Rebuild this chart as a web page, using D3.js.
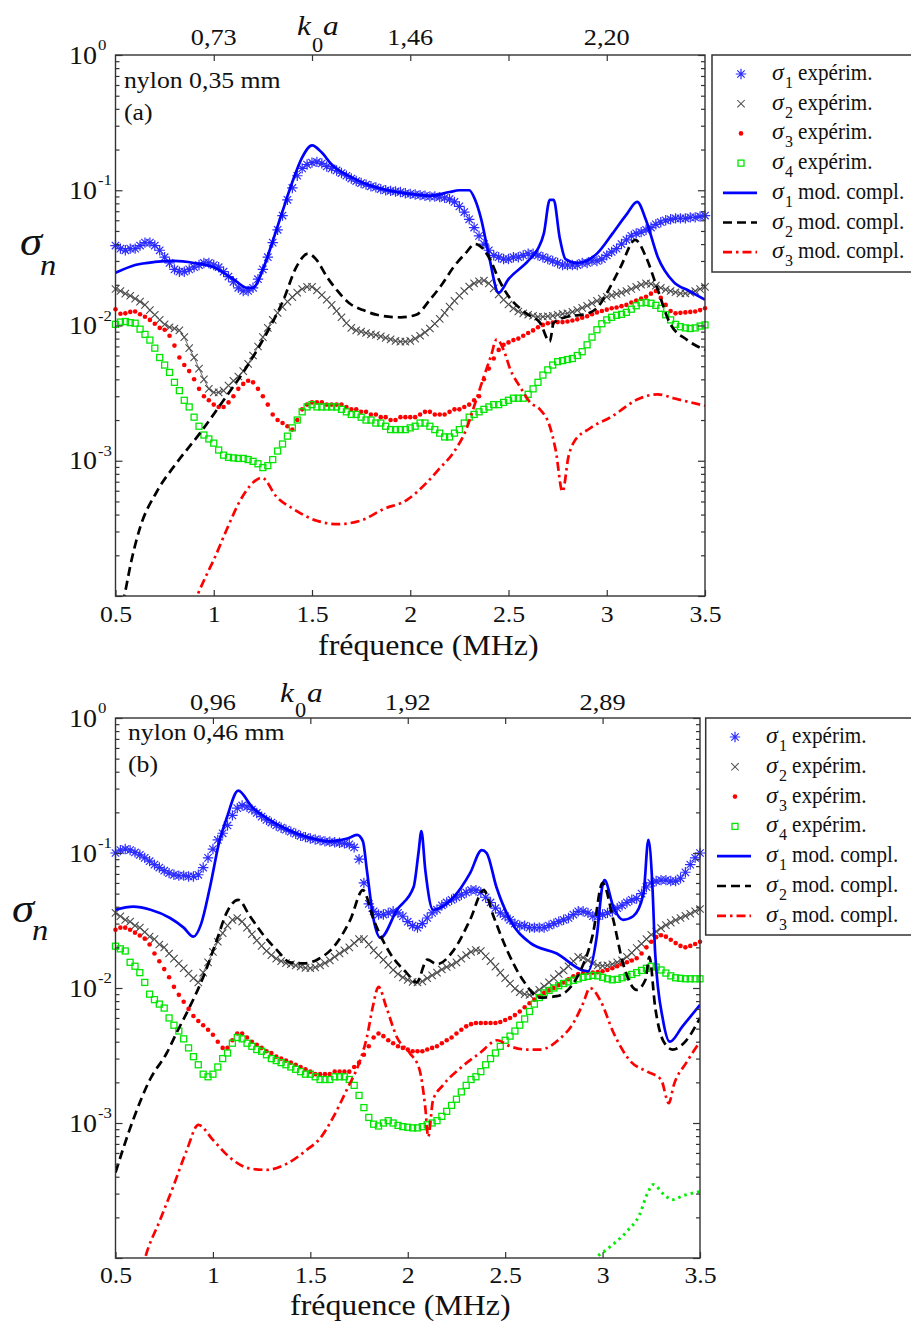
<!DOCTYPE html>
<html>
<head>
<meta charset="utf-8">
<script src="https://cdn.jsdelivr.net/npm/d3@7"></script>
<style>
  body { margin: 0; background: #fff; }
  svg text { font-family: "Liberation Serif", "Times New Roman", Times, serif; fill: #111; }
</style>
</head>
<body>
<svg id="chart" width="911" height="1322"></svg>
<script>
// ---------------------------------------------------------------
// Measured and modelled partial scattering cross-sections sigma_n
// versus frequency for two nylon wires (0.35 mm and 0.46 mm).
// ---------------------------------------------------------------

// Frequency grid of the measurements (MHz), 0.5 to 3.5 in 0.025 steps
const expStep = 0.025;
const expFreq = d3.range(121).map(i => +(0.5 + i * expStep).toFixed(3));

// x-axis ticks (MHz) and the k0a values shown on the top axis
const freqTicks = [0.5, 1, 1.5, 2, 2.5, 3, 3.5];
const topTicks = [1, 1.5, 2, 2.5, 3];
const k0aLabelsA = ["0,73", "", "1,46", "", "2,20"];
const k0aLabelsB = ["0,96", "", "1,92", "", "2,89"];
const decadeTicks = [1e-4, 1e-3, 1e-2, 1e-1, 1];
const decadeLabels = [[1, "0"], [1e-1, "-1"], [1e-2, "-2"], [1e-3, "-3"]];

// ---------------- nylon 0,35 mm : experiment ----------------
const s1ExpA = [
  0.039,0.037,0.036,0.037,0.037,0.039,0.041,0.041,0.039,0.036,
  0.032,0.029,0.026,0.025,0.025,0.026,0.027,0.028,0.029,0.029,
  0.028,0.027,0.025,0.023,0.021,0.019,0.018,0.018,0.019,0.022,
  0.026,0.032,0.041,0.051,0.065,0.085,0.104,0.128,0.145,0.155,
  0.160,0.162,0.158,0.150,0.145,0.140,0.134,0.128,0.122,0.117,
  0.113,0.110,0.107,0.105,0.102,0.100,0.099,0.098,0.097,0.095,
  0.094,0.093,0.092,0.091,0.090,0.090,0.089,0.088,0.086,0.082,
  0.076,0.069,0.061,0.053,0.046,0.040,0.036,0.033,0.032,0.031,
  0.031,0.032,0.032,0.033,0.034,0.034,0.033,0.032,0.031,0.030,
  0.029,0.028,0.028,0.028,0.028,0.029,0.029,0.030,0.030,0.031,
  0.033,0.035,0.037,0.040,0.043,0.046,0.048,0.049,0.051,0.053,
  0.056,0.058,0.060,0.061,0.062,0.062,0.062,0.063,0.063,0.064,
  0.065];
const s2ExpA = [
  0.0186,0.0180,0.0172,0.0166,0.0158,0.0150,0.0142,0.0130,0.0120,0.0110,
  0.0102,0.0097,0.0095,0.0092,0.0082,0.0068,0.0058,0.0048,0.0040,0.0034,
  0.0032,0.0032,0.0033,0.0036,0.0039,0.0042,0.0046,0.0052,0.0060,0.0070,
  0.0082,0.0096,0.0110,0.0124,0.0137,0.0150,0.0162,0.0175,0.0186,0.0193,
  0.0193,0.0182,0.0168,0.0155,0.0142,0.0128,0.0115,0.0104,0.0096,0.0092,
  0.0090,0.0088,0.0086,0.0085,0.0083,0.0081,0.0079,0.0077,0.0076,0.0076,
  0.0077,0.0080,0.0084,0.0089,0.0095,0.0103,0.0112,0.0124,0.0138,0.0152,
  0.0166,0.0180,0.0194,0.0205,0.0212,0.0215,0.0205,0.0188,0.0170,0.0155,
  0.0143,0.0134,0.0127,0.0123,0.0120,0.0118,0.0116,0.0116,0.0117,0.0118,
  0.0120,0.0122,0.0123,0.0126,0.0130,0.0135,0.0140,0.0146,0.0152,0.0158,
  0.0163,0.0167,0.0171,0.0175,0.0180,0.0186,0.0193,0.0200,0.0205,0.0203,
  0.0197,0.0190,0.0184,0.0180,0.0176,0.0173,0.0173,0.0175,0.0180,0.0186,
  0.0193];
const s3ExpA = [
  0.0132,0.0122,0.0123,0.0126,0.0127,0.0121,0.0116,0.0110,0.0103,0.0096,
  0.0093,0.0084,0.0071,0.0058,0.0051,0.0046,0.0040,0.0034,0.0030,0.0028,
  0.0026,0.0025,0.0025,0.0027,0.0030,0.0034,0.0037,0.0039,0.0038,0.0034,
  0.0030,0.0026,0.0022,0.0020,0.0019,0.0018,0.0017,0.0020,0.0024,0.0026,
  0.0027,0.0027,0.0027,0.0026,0.0026,0.0026,0.0026,0.0025,0.0024,0.0024,
  0.0023,0.0023,0.0022,0.0022,0.0021,0.0021,0.0020,0.0020,0.0021,0.0021,
  0.0021,0.0021,0.0022,0.0023,0.0023,0.0022,0.0022,0.0022,0.0023,0.0024,
  0.0024,0.0025,0.0026,0.0028,0.0030,0.0040,0.0048,0.0057,0.0066,0.0072,
  0.0075,0.0078,0.0080,0.0084,0.0088,0.0092,0.0097,0.0101,0.0104,0.0105,
  0.0106,0.0106,0.0107,0.0109,0.0111,0.0114,0.0117,0.0121,0.0125,0.0128,
  0.0131,0.0134,0.0136,0.0139,0.0142,0.0148,0.0153,0.0158,0.0163,0.0172,
  0.0180,0.0160,0.0142,0.0128,0.0123,0.0124,0.0125,0.0126,0.0127,0.0130,
  0.0134];
const s4ExpA = [
  0.0102,0.0106,0.0107,0.0105,0.0104,0.0094,0.0086,0.0078,0.0068,0.0058,
  0.0051,0.0045,0.0038,0.0033,0.0028,0.0025,0.0021,0.0018,0.00155,0.00145,
  0.00135,0.0012,0.0011,0.00106,0.00105,0.00104,0.00104,0.00102,0.00099,0.00095,
  0.00089,0.00092,0.00102,0.00118,0.00133,0.00152,0.00175,0.0020,0.0023,0.0025,
  0.0026,0.0025,0.0025,0.0025,0.0025,0.0025,0.0024,0.0023,0.0022,0.0022,
  0.0021,0.0020,0.0020,0.0019,0.0019,0.0018,0.0017,0.0017,0.0017,0.0017,
  0.00175,0.0018,0.0019,0.0019,0.0018,0.0017,0.0016,0.0015,0.0015,0.0016,
  0.0017,0.0019,0.0021,0.0022,0.0023,0.0024,0.0025,0.0026,0.0026,0.0027,
  0.0028,0.0029,0.0029,0.0029,0.0031,0.0034,0.0038,0.0043,0.0047,0.0051,
  0.0054,0.0055,0.0056,0.0057,0.0060,0.0064,0.0072,0.0082,0.0093,0.0103,
  0.0110,0.0115,0.0119,0.0121,0.0125,0.0132,0.0140,0.0147,0.0148,0.0146,
  0.0141,0.0134,0.0120,0.0110,0.0102,0.0098,0.0096,0.0095,0.0096,0.0099,
  0.0101];

// ---------------- nylon 0,35 mm : complete model ([MHz, sigma]) ----------------
const s1ModA = [[0.5,0.0245],[0.6,0.028],[0.7,0.0295],[0.8,0.030],[0.9,0.029],[1.0,0.027],[1.1,0.022],
  [1.17,0.019],[1.2,0.019],[1.25,0.026],[1.3,0.042],[1.35,0.070],[1.4,0.115],[1.45,0.175],[1.5,0.215],
  [1.55,0.19],[1.6,0.155],[1.7,0.125],[1.8,0.108],[1.9,0.099],[2.0,0.094],[2.1,0.091],[2.2,0.097],
  [2.25,0.100],[2.3,0.100],[2.33,0.085],[2.36,0.062],[2.4,0.033],[2.45,0.0175],[2.5,0.022],[2.6,0.030],
  [2.65,0.037],[2.68,0.048],[2.71,0.085],[2.73,0.085],[2.76,0.045],[2.79,0.031],[2.85,0.029],[2.95,0.034],
  [3.03,0.048],[3.1,0.066],[3.155,0.082],[3.2,0.060],[3.26,0.032],[3.34,0.021],[3.42,0.018],[3.5,0.0155]];
const s2ModA = [[0.52,7e-5],[0.545,1.0e-4],[0.58,1.8e-4],[0.625,3.2e-4],[0.71,5.9e-4],[0.81,9.6e-4],
  [0.93,1.6e-3],[1.05,2.8e-3],[1.17,5.0e-3],[1.27,8.8e-3],[1.355,0.0155],[1.42,0.027],[1.48,0.034],
  [1.52,0.031],[1.575,0.023],[1.63,0.018],[1.69,0.0146],[1.76,0.013],[1.83,0.012],[1.95,0.0115],
  [2.03,0.012],[2.1,0.0155],[2.16,0.020],[2.22,0.027],[2.28,0.034],[2.33,0.040],[2.37,0.037],[2.41,0.030],
  [2.45,0.022],[2.49,0.0173],[2.59,0.0123],[2.66,0.0105],[2.71,0.0076],[2.73,0.0105],[2.8,0.0116],
  [2.9,0.0122],[2.96,0.014],[3.0,0.0173],[3.07,0.027],[3.145,0.043],[3.2,0.032],[3.26,0.0183],
  [3.32,0.0105],[3.41,0.0078],[3.5,0.0066]];
const s3ModA = [[0.895,8.5e-5],[0.915,1.0e-4],[0.96,1.4e-4],[1.0,1.85e-4],[1.07,3.2e-4],[1.135,5.1e-4],
  [1.2,6.9e-4],[1.245,7.5e-4],[1.32,5.4e-4],[1.405,4.4e-4],[1.525,3.6e-4],[1.63,3.4e-4],[1.745,3.6e-4],
  [1.865,4.4e-4],[1.98,5.1e-4],[2.08,6.8e-4],[2.15,8.8e-4],[2.22,1.15e-3],[2.29,1.78e-3],[2.32,2.4e-3],
  [2.375,4.2e-3],[2.41,5.9e-3],[2.44,7.9e-3],[2.475,6.6e-3],[2.51,4.7e-3],[2.56,3.5e-3],[2.61,2.7e-3],
  [2.66,2.4e-3],[2.71,1.8e-3],[2.74,1.2e-3],[2.775,5.9e-4],[2.805,1.07e-3],[2.83,1.35e-3],[2.915,1.74e-3],
  [3.02,2.1e-3],[3.17,2.9e-3],[3.26,3.1e-3],[3.34,2.9e-3],[3.5,2.55e-3]];

// ---------------- nylon 0,46 mm : experiment ----------------
const s1ExpB = [
  0.100,0.105,0.107,0.105,0.101,0.097,0.092,0.087,0.082,0.078,
  0.074,0.071,0.069,0.068,0.068,0.067,0.067,0.069,0.078,0.092,
  0.107,0.125,0.140,0.160,0.190,0.215,0.225,0.220,0.210,0.198,
  0.186,0.176,0.168,0.160,0.154,0.149,0.144,0.139,0.134,0.131,
  0.128,0.126,0.124,0.122,0.121,0.120,0.119,0.118,0.116,0.110,
  0.090,0.060,0.042,0.037,0.035,0.035,0.036,0.037,0.036,0.034,
  0.031,0.029,0.028,0.030,0.033,0.036,0.038,0.041,0.043,0.045,
  0.047,0.049,0.051,0.053,0.053,0.051,0.047,0.043,0.039,0.036,
  0.034,0.032,0.030,0.029,0.029,0.028,0.028,0.028,0.028,0.029,
  0.030,0.031,0.032,0.033,0.035,0.037,0.037,0.036,0.034,0.034,
  0.035,0.036,0.037,0.039,0.041,0.043,0.045,0.046,0.050,0.056,
  0.060,0.062,0.063,0.063,0.062,0.062,0.065,0.072,0.082,0.092,
  0.100];
const s2ExpB = [
  0.036,0.034,0.032,0.031,0.029,0.028,0.026,0.024,0.023,0.021,
  0.020,0.018,0.0165,0.0152,0.0140,0.0128,0.0118,0.0110,0.0130,0.0155,
  0.0185,0.0220,0.0255,0.0290,0.0320,0.0330,0.0310,0.0280,0.0250,0.0225,
  0.0205,0.0188,0.0175,0.0165,0.0158,0.0153,0.0150,0.0147,0.0144,0.0141,
  0.0140,0.0142,0.0147,0.0153,0.0160,0.0170,0.0180,0.0190,0.0200,0.0215,
  0.0230,0.0230,0.0210,0.0190,0.0175,0.0162,0.0148,0.0136,0.0127,0.0120,
  0.0115,0.0111,0.0110,0.0112,0.0118,0.0124,0.0130,0.0137,0.0143,0.0148,
  0.0155,0.0165,0.0175,0.0185,0.0191,0.0188,0.0172,0.0158,0.0144,0.0130,
  0.0118,0.0108,0.0099,0.0093,0.0090,0.0089,0.0092,0.0097,0.0103,0.0110,
  0.0118,0.0127,0.0135,0.0145,0.0158,0.0170,0.0168,0.0160,0.0152,0.0147,
  0.0146,0.0147,0.0150,0.0155,0.0160,0.0170,0.0182,0.0198,0.0212,0.0230,
  0.0248,0.0262,0.0278,0.0292,0.0305,0.0318,0.0330,0.0342,0.0355,0.0370,
  0.0385];
const s3ExpB = [
  0.0270,0.0280,0.0280,0.0270,0.0257,0.0245,0.0232,0.0210,0.0180,0.0158,
  0.0138,0.0120,0.0102,0.0089,0.0079,0.0070,0.0062,0.0057,0.0053,0.0049,
  0.0045,0.0040,0.0036,0.0036,0.0041,0.0046,0.0046,0.0043,0.0040,0.0038,
  0.0036,0.0034,0.0033,0.0031,0.0030,0.0029,0.0028,0.0027,0.0026,0.0025,
  0.0024,0.0023,0.0023,0.0023,0.0023,0.0024,0.0024,0.0024,0.0024,0.0026,
  0.0028,0.0032,0.0037,0.0043,0.0046,0.0044,0.0041,0.0039,0.0037,0.0036,
  0.0035,0.0034,0.0034,0.0034,0.0035,0.0036,0.0037,0.0039,0.0041,0.0043,
  0.0046,0.0049,0.0052,0.0054,0.0055,0.0055,0.0055,0.0055,0.0055,0.0056,
  0.0058,0.0060,0.0063,0.0067,0.0072,0.0077,0.0082,0.0087,0.0092,0.0096,
  0.0100,0.0105,0.0110,0.0116,0.0122,0.0127,0.0129,0.0130,0.0130,0.0131,
  0.0133,0.0136,0.0140,0.0145,0.0150,0.0155,0.0160,0.0166,0.0180,0.0200,
  0.0220,0.0238,0.0246,0.0240,0.0228,0.0215,0.0205,0.0200,0.0205,0.0212,
  0.0220];
const s4ExpB = [
  0.0204,0.0195,0.0188,0.0155,0.0145,0.0130,0.0110,0.0090,0.0082,0.0076,
  0.0071,0.0060,0.0053,0.0048,0.0042,0.0036,0.0031,0.0027,0.0023,0.0022,
  0.0023,0.0026,0.0030,0.0033,0.0039,0.0043,0.0042,0.0039,0.0037,0.0035,
  0.0034,0.0032,0.0030,0.0029,0.0028,0.0027,0.0026,0.0025,0.0024,0.0023,
  0.0023,0.0022,0.0021,0.0021,0.0021,0.0022,0.0022,0.0022,0.0021,0.0019,
  0.0016,0.0013,0.0011,0.00098,0.00095,0.00100,0.00104,0.00100,0.00096,0.00094,
  0.00093,0.00092,0.00092,0.00094,0.00097,0.00100,0.00104,0.00112,0.00122,0.00135,
  0.0015,0.0017,0.0019,0.0021,0.0022,0.0024,0.0027,0.0030,0.0033,0.0037,
  0.0041,0.0044,0.0048,0.0053,0.0059,0.0067,0.0076,0.0085,0.0092,0.0096,
  0.0100,0.0104,0.0108,0.0111,0.0114,0.0117,0.0120,0.0122,0.0124,0.0123,
  0.0120,0.0117,0.0115,0.0116,0.0119,0.0122,0.0126,0.0130,0.0135,0.0140,
  0.0145,0.0143,0.0136,0.0129,0.0123,0.0119,0.0118,0.0117,0.0117,0.0117,
  0.0117];

// ---------------- nylon 0,46 mm : complete model ([MHz, sigma]) ----------------
const s1ModB = [[0.5,0.038],[0.59,0.040],[0.68,0.038],[0.78,0.033],[0.85,0.028],[0.9,0.024],[0.94,0.030],
  [0.985,0.056],[1.035,0.125],[1.07,0.18],[1.13,0.29],[1.2,0.22],[1.28,0.18],[1.38,0.15],[1.48,0.132],
  [1.6,0.122],[1.69,0.128],[1.74,0.136],[1.77,0.122],[1.79,0.075],[1.825,0.032],[1.86,0.0235],
  [1.945,0.038],[2.03,0.056],[2.055,0.10],[2.07,0.145],[2.09,0.075],[2.13,0.038],[2.235,0.047],
  [2.32,0.071],[2.38,0.105],[2.405,0.10],[2.455,0.056],[2.525,0.032],[2.63,0.0215],[2.765,0.018],
  [2.9,0.0135],[2.925,0.0133],[2.97,0.024],[3.0,0.058],[3.01,0.063],[3.055,0.040],[3.105,0.032],
  [3.157,0.034],[3.21,0.05],[3.235,0.125],[3.255,0.06],[3.27,0.018],[3.31,0.0058],[3.345,0.004],
  [3.41,0.0052],[3.5,0.0075]];
const s2ModB = [[0.5,4.3e-4],[0.59,1.05e-3],[0.677,2.1e-3],[0.763,3.3e-3],[0.815,4.7e-3],[0.88,7.2e-3],
  [0.95,0.012],[1.02,0.0227],[1.07,0.036],[1.13,0.045],[1.19,0.034],[1.26,0.0246],[1.33,0.019],
  [1.395,0.0155],[1.465,0.0152],[1.535,0.0162],[1.635,0.0215],[1.705,0.032],[1.77,0.053],[1.825,0.032],
  [1.91,0.018],[1.995,0.0129],[2.045,0.011],[2.1,0.0162],[2.15,0.015],[2.235,0.019],[2.32,0.032],
  [2.39,0.053],[2.44,0.034],[2.51,0.019],[2.59,0.0115],[2.68,0.0085],[2.765,0.0087],[2.87,0.0121],
  [2.95,0.025],[3.0,0.06],[3.055,0.032],[3.105,0.0152],[3.175,0.0097],[3.22,0.0115],[3.24,0.017],
  [3.27,0.0072],[3.31,0.0041],[3.36,0.0035],[3.43,0.0041],[3.5,0.006]];
const s3ModB = [[0.63,7.5e-5],[0.652,1.0e-4],[0.728,1.9e-4],[0.797,3.4e-4],[0.866,6.3e-4],[0.925,9.7e-4],
  [1.0,7.5e-4],[1.09,5.5e-4],[1.19,4.6e-4],[1.277,4.5e-4],[1.38,5.0e-4],[1.48,6.3e-4],[1.55,7.7e-4],
  [1.617,1.1e-3],[1.686,1.75e-3],[1.755,2.9e-3],[1.79,4.3e-3],[1.82,7.2e-3],[1.85,0.0102],[1.89,7.2e-3],
  [1.945,4.3e-3],[2.01,3.3e-3],[2.06,2.5e-3],[2.09,1.3e-3],[2.105,7.9e-4],[2.13,1.48e-3],[2.18,1.9e-3],
  [2.27,2.55e-3],[2.37,3.3e-3],[2.46,4.1e-3],[2.525,3.7e-3],[2.61,3.5e-3],[2.68,3.5e-3],[2.78,4.2e-3],
  [2.85,5.5e-3],[2.9,7.7e-3],[2.935,0.010],[2.99,8.0e-3],[3.055,4.7e-3],[3.14,2.9e-3],[3.23,2.4e-3],
  [3.3,2.1e-3],[3.34,1.4e-3],[3.365,1.9e-3],[3.43,2.8e-3],[3.5,4.0e-3]];
const s4ModB = [[2.95,8.5e-5],[2.97,1.0e-4],[3.02,1.15e-4],[3.12,1.55e-4],[3.19,2.1e-4],[3.23,3.0e-4],
  [3.26,3.5e-4],[3.31,3.0e-4],[3.357,2.7e-4],[3.415,2.9e-4],[3.5,3.1e-4]];

[s1ExpA, s2ExpA, s3ExpA, s4ExpA, s1ExpB, s2ExpB, s3ExpB, s4ExpB].forEach((s, i) => {
  if (s.length !== expFreq.length) throw new Error("series " + i + " has " + s.length + " values");
});

// ---------------- styles ----------------
const BLUE = "#0000ff", STAR = "#2c2cff", GREY = "#4a4a4a", RED = "#ff0000", GREEN = "#00e600";
const TX = 1.12;   // horizontal stretch of the serif lettering

const legendRows = [
  { kind: "star",   n: "1", txt: "expérim." },
  { kind: "cross",  n: "2", txt: "expérim." },
  { kind: "dot",    n: "3", txt: "expérim." },
  { kind: "square", n: "4", txt: "expérim." },
  { kind: "solid",  n: "1", txt: "mod. compl." },
  { kind: "dash",   n: "2", txt: "mod. compl." },
  { kind: "dashdot",n: "3", txt: "mod. compl." }
];

const svg = d3.select("#chart");
const defs = svg.append("defs");

function label(parent, x, y, str, size, opts = {}) {
  return parent.append("text")
    .attr("transform", `translate(${x},${y}) scale(${opts.sx ?? TX},1)`)
    .attr("font-size", size)
    .attr("text-anchor", opts.anchor || "start")
    .attr("font-style", opts.italic ? "italic" : null)
    .text(str);
}

function drawMarker(sel, kind) {
  if (kind === "star") {
    sel.append("path").attr("d", "M-5.2,0H5.2M0,-5.2V5.2M-3.7,-3.7L3.7,3.7M-3.7,3.7L3.7,-3.7")
      .attr("stroke", STAR).attr("stroke-width", 1.2).attr("fill", "none");
  } else if (kind === "cross") {
    sel.append("path").attr("d", "M-3.7,-3.7L3.7,3.7M-3.7,3.7L3.7,-3.7")
      .attr("stroke", GREY).attr("stroke-width", 1.05).attr("fill", "none");
  } else if (kind === "dot") {
    sel.append("circle").attr("r", 2.3).attr("fill", RED);
  } else if (kind === "square") {
    sel.append("rect").attr("x", -3).attr("y", -3).attr("width", 6).attr("height", 6)
      .attr("fill", "none").attr("stroke", GREEN).attr("stroke-width", 1.3);
  }
}

const lineStyles = {
  solid:   { stroke: BLUE,   dash: null,       width: 2.7 },
  dash:    { stroke: "#000", dash: "9,5",      width: 2.7 },
  dashdot: { stroke: RED,    dash: "9,4,2.5,4", width: 2.7 },
  dotted:  { stroke: "#00ee00", dash: "2.5,4", width: 3 }
};

function drawPanel(cfg) {
  const g = svg.append("g");
  const x = d3.scaleLinear().domain([0.5, 3.5]).range([cfg.left, cfg.right]);
  const y = d3.scaleLog().domain([1e-4, 1]).range([cfg.bottom, cfg.top]);

  const clipId = "plot-clip-" + cfg.key;
  defs.append("clipPath").attr("id", clipId).append("rect")
    .attr("x", cfg.left).attr("y", cfg.top)
    .attr("width", cfg.right - cfg.left).attr("height", cfg.bottom - cfg.top);

  // measured series
  const expSeries = [
    { data: cfg.exp[0], kind: "star" },
    { data: cfg.exp[1], kind: "cross" },
    { data: cfg.exp[2], kind: "dot" },
    { data: cfg.exp[3], kind: "square" }
  ];
  const expLine = d3.line().x((d, i) => x(expFreq[i])).y(d => y(d));
  expSeries.forEach(s => {
    const pts = s.data.map((v, i) => [expFreq[i], v]);
    if (s.kind === "cross") {
      g.append("path").attr("d", expLine(s.data)).attr("fill", "none")
        .attr("stroke", "#222").attr("stroke-width", 0.7);
    }
    const m = g.append("g").selectAll("g").data(pts).join("g")
      .attr("transform", d => `translate(${x(d[0])},${y(d[1])})`);
    drawMarker(m, s.kind);
  });

  // model curves
  const modLine = d3.line().x(d => x(d[0])).y(d => y(d[1])).curve(d3.curveMonotoneX);
  const lines = g.append("g").attr("clip-path", `url(#${clipId})`);
  cfg.models.forEach(mdl => {
    const st = lineStyles[mdl.style];
    lines.append("path").attr("d", modLine(mdl.data)).attr("fill", "none")
      .attr("stroke", st.stroke).attr("stroke-width", st.width)
      .attr("stroke-dasharray", st.dash).attr("stroke-linejoin", "round");
  });

  // axes: ticks pointing into the frame
  const minorTicks = [];
  for (let e = -4; e < 0; e++) for (let k = 2; k <= 9; k++) minorTicks.push(k * Math.pow(10, e));
  const tidy = a => { a.select(".domain").remove(); a.selectAll("line").attr("stroke", "#333").attr("stroke-width", 1.2); };

  g.append("g").attr("transform", `translate(0,${cfg.bottom})`)
    .call(d3.axisBottom(x).tickValues(freqTicks).tickSize(-6).tickFormat(d => String(d)))
    .call(tidy)
    .call(a => a.selectAll("text").attr("y", cfg.bottomLabelDy).attr("dy", null)
      .attr("font-size", 23).attr("fill", "#111")
      .attr("transform", `scale(${TX},1)`));

  g.append("g").attr("transform", `translate(0,${cfg.top})`)
    .call(d3.axisTop(x).tickValues(topTicks).tickSize(-6).tickFormat(""))
    .call(tidy);

  [["axisLeft", cfg.left], ["axisRight", cfg.right]].forEach(([fn, px]) => {
    g.append("g").attr("transform", `translate(${px},0)`)
      .call(d3[fn](y).tickValues(decadeTicks).tickSize(-7).tickFormat("")).call(tidy);
    g.append("g").attr("transform", `translate(${px},0)`)
      .call(d3[fn](y).tickValues(minorTicks).tickSize(-4).tickFormat("")).call(tidy);
  });

  g.append("rect").attr("x", cfg.left).attr("y", cfg.top)
    .attr("width", cfg.right - cfg.left).attr("height", cfg.bottom - cfg.top)
    .attr("fill", "none").attr("stroke", "#333").attr("stroke-width", 1.4);

  // decade labels 10^n
  decadeLabels.forEach(([v, ex]) => {
    label(g, 97, y(v) + 8.5, "10", 25, { anchor: "end" });
    label(g, 98, y(v) - 5, ex, 15);
  });

  // k0a scale along the top
  topTicks.forEach((f, i) => {
    if (cfg.k0aLabels[i]) label(g, x(f), cfg.top - cfg.topLabelGap, cfg.k0aLabels[i], 23.5, { anchor: "middle" });
  });
  label(g, cfg.k.x, cfg.k.base, "k", 28, { italic: true });
  label(g, cfg.k.subX, cfg.k.subBase, "0", 20);
  label(g, cfg.k.aX, cfg.k.base, "a", 28, { italic: true });

  // sigma_n axis title
  label(g, cfg.sigma.x, cfg.sigma.base, "σ", 40, { italic: true });
  label(g, cfg.sigma.nX, cfg.sigma.nBase, "n", 29, { italic: true });

  // specimen caption
  label(g, cfg.title.x, cfg.title.y, cfg.title.text, 23);
  label(g, cfg.title.x, cfg.title.tagY, cfg.title.tag, 23);

  // frequency axis title
  label(g, cfg.xlabel.x, cfg.xlabel.y, "fréquence (MHz)", 28.5);

  // legend
  const L = cfg.legend;
  g.append("rect").attr("x", L.x).attr("y", L.y).attr("width", 911 - L.x + 10).attr("height", L.h)
    .attr("fill", "#fff").attr("stroke", "#333").attr("stroke-width", 1.5);
  legendRows.forEach((r, i) => {
    const cy = L.rowY0 + i * L.dy;
    if (lineStyles[r.kind]) {
      const st = lineStyles[r.kind];
      g.append("line").attr("x1", L.lineX0).attr("x2", L.lineX1).attr("y1", cy).attr("y2", cy)
        .attr("stroke", st.stroke).attr("stroke-width", st.width).attr("stroke-dasharray", st.dash);
    } else {
      drawMarker(g.append("g").attr("transform", `translate(${L.symX},${cy})`), r.kind);
    }
    label(g, L.textX, cy + 6, "σ", 24, { italic: true, sx: 1 });
    label(g, L.textX + 13, cy + 14, r.n, 16, { sx: 1 });
    label(g, L.textX + 26, cy + 6, r.txt, 23, { sx: 0.92 });
  });
}

drawPanel({
  key: "a", left: 115.5, right: 705, top: 55, bottom: 596, bottomLabelDy: 26,
  k0aLabels: k0aLabelsA, topLabelGap: 10,
  k: { x: 297, base: 35, subX: 312, subBase: 52, aX: 323 },
  sigma: { x: 20, base: 255, nX: 40, nBase: 275 },
  title: { x: 124, y: 88, text: "nylon 0,35 mm", tag: "(a)", tagY: 120 },
  xlabel: { x: 318, y: 655 },
  legend: { x: 712, y: 55, h: 217, rowY0: 74, dy: 29.7, symX: 741, lineX0: 723, lineX1: 757, textX: 772 },
  exp: [s1ExpA, s2ExpA, s3ExpA, s4ExpA],
  models: [
    { data: s1ModA, style: "solid" },
    { data: s2ModA, style: "dash" },
    { data: s3ModA, style: "dashdot" }
  ]
});

drawPanel({
  key: "b", left: 115.5, right: 700, top: 718, bottom: 1258, bottomLabelDy: 25,
  k0aLabels: k0aLabelsB, topLabelGap: 8,
  k: { x: 280, base: 702, subX: 295, subBase: 717, aX: 307 },
  sigma: { x: 12, base: 922, nX: 32, nBase: 940 },
  title: { x: 128, y: 740, text: "nylon 0,46 mm", tag: "(b)", tagY: 772 },
  xlabel: { x: 290, y: 1315 },
  legend: { x: 705.7, y: 718, h: 217, rowY0: 737, dy: 29.8, symX: 735, lineX0: 717, lineX1: 751, textX: 766 },
  exp: [s1ExpB, s2ExpB, s3ExpB, s4ExpB],
  models: [
    { data: s1ModB, style: "solid" },
    { data: s2ModB, style: "dash" },
    { data: s3ModB, style: "dashdot" },
    { data: s4ModB, style: "dotted" }
  ]
});
</script>
</body>
</html>
